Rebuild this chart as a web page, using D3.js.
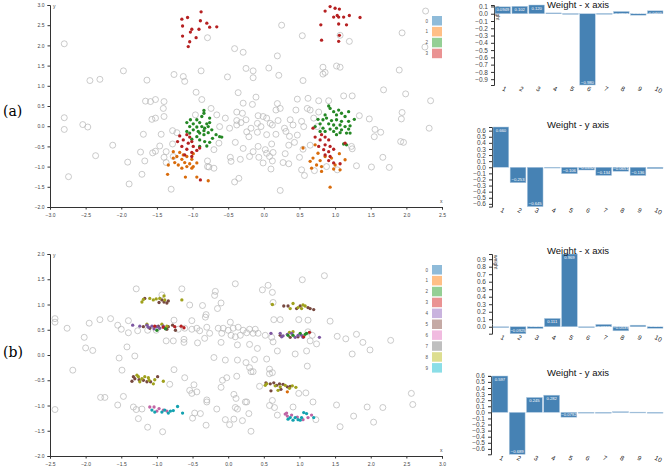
<!DOCTYPE html>
<html>
<head>
<meta charset="utf-8">
<title>Weights and clusters</title>
<style>
    body { margin: 0; padding: 0; background: #fff; }
    svg { display: block; font-family: "Liberation Sans", Arial, sans-serif; }
    .axis path, .axis line { stroke: #333; }
    .axis text { fill: #444; }
</style>
</head>
<body>
<svg id="chart" width="666" height="476"></svg>
<script src="https://d3js.org/d3.v7.min.js"></script>
<script>
// ---- data ----
const weightLabels = ["1", "2", "3", "4", "5", "6", "7", "8", "9", "10"];
const aWeightX = [0.0949, 0.102, 0.120, 0.0112, 0.0021, -0.980, 0.0034, 0.0307, -0.0198, 0.0402];
const aWeightY = [0.660, -0.253, -0.645, -0.0085, -0.106, -0.0452, -0.134, -0.0651, -0.136, -0.0230];
const bWeightX = [-0.0052, -0.0925, -0.0230, 0.111, 0.969, -0.0110, 0.0312, -0.0539, 0.0210, -0.0205];
const bWeightY = [0.597, -0.689, 0.245, 0.282, -0.0792, 0.0004, -0.0036, 0.0104, 0.0035, -0.0062];

const legendA = ["0", "1", "2", "3"];
const legendB = ["0", "1", "2", "3", "4", "5", "6", "7", "8", "9"];

// panel (a): unlabelled points
const aBackground = [
    [2.27,2.85],[0.25,2.50],[-2.80,2.04],[1.94,2.31],[0.54,2.24],[-0.79,2.19],[1.07,2.25],[2.26,1.96],
    [1.20,2.10],[1.90,1.39],[-0.41,1.92],[-0.29,1.83],[0.19,1.74],[-1.97,1.37],[-1.26,1.28],[-0.88,1.37],
    [-0.25,1.43],[-0.15,1.37],[0.07,1.44],[0.83,1.46],[1.02,1.49],[1.07,1.46],[0.86,1.33],[0.83,1.29],
    [-1.13,1.23],[-1.11,1.11],[-2.44,1.13],[-2.30,1.16],[-1.64,1.14],[-0.51,1.22],[-0.15,1.20],[0.21,1.26],
    [0.55,1.13],[1.68,0.90],[-0.95,0.84],[-0.36,0.83],[-0.11,0.72],[1.99,0.80],[2.34,0.63],[-1.66,0.62],
    [-1.59,0.61],[-1.52,0.66],[-1.40,0.61],[-0.87,0.66],[-0.29,0.57],[-0.16,0.54],[0.19,0.56],[0.47,0.67],
    [0.62,0.69],[0.77,0.63],[0.91,0.63],[1.12,0.75],[1.24,0.75],[-1.41,0.44],[-0.74,0.44],[-0.38,0.35],
    [-0.30,0.32],[0.17,0.40],[0.23,0.44],[0.45,0.40],[0.61,0.44],[0.65,0.40],[0.77,0.35],[1.94,0.34],
    [-2.80,0.21],[-1.40,0.24],[-1.52,0.20],[-1.57,0.17],[-0.96,0.28],[-0.66,0.28],[-0.54,0.20],[-0.38,0.14],
    [-0.25,0.16],[-0.08,0.26],[-0.01,0.24],[0.04,0.20],[-0.09,0.07],[0.09,0.07],[0.20,0.14],[0.37,0.16],
    [0.53,0.12],[0.70,0.20],[1.34,0.26],[1.48,0.18],[1.93,0.18],[-2.80,-0.08],[-2.54,0.04],[-2.47,-0.02],
    [-1.28,-0.11],[-0.62,-0.01],[-0.48,-0.05],[-0.38,0.03],[-0.32,0.09],[-0.18,-0.05],[-0.04,-0.01],[0.12,0.03],
    [0.29,-0.05],[0.41,0.03],[0.56,-0.01],[0.75,-0.01],[1.56,-0.08],[1.64,-0.15],[2.32,-0.05],[-1.69,-0.20],
    [-1.44,-0.20],[-1.22,-0.16],[-0.24,-0.14],[-0.21,-0.26],[-0.09,-0.15],[0.04,-0.21],[0.17,-0.20],[0.31,-0.13],
    [0.36,-0.25],[0.47,-0.22],[1.55,-0.26],[-2.12,-0.47],[-1.46,-0.49],[-1.28,-0.44],[-0.63,-0.42],[-0.40,-0.40],
    [-0.29,-0.55],[-0.08,-0.50],[0.11,-0.44],[0.35,-0.47],[0.43,-0.40],[1.23,-0.50],[1.24,-0.56],[1.92,-0.38],
    [1.96,-0.40],[-1.73,-0.64],[-1.56,-0.66],[-1.52,-0.62],[-1.37,-0.63],[-0.70,-0.58],[-0.15,-0.63],[0.02,-0.58],
    [0.04,-0.67],[0.13,-0.65],[0.30,-0.68],[0.55,-0.57],[0.65,-0.47],[-2.36,-0.73],[-1.40,-0.77],[-1.27,-0.75],
    [-0.47,-0.77],[-0.20,-0.75],[-0.07,-0.77],[0.08,-0.75],[1.67,-0.77],[-1.91,-0.89],[-1.67,-0.86],[-1.37,-0.90],
    [-0.79,-0.86],[-0.46,-0.87],[-0.33,-0.82],[-0.01,-0.91],[0.12,-0.86],[0.27,-0.90],[0.35,-0.93],[0.50,-0.77],
    [0.88,-1.00],[1.30,-0.98],[1.51,-1.01],[1.76,-1.02],[-1.71,-1.19],[-2.74,-1.25],[-0.79,-1.00],[-0.77,-1.01],
    [-0.70,-1.04],[0.10,-1.06],[0.53,-1.08],[0.57,-1.22],[0.71,-1.10],[1.03,-1.08],[-1.89,-1.43],[-1.30,-1.56],
    [-0.41,-1.38],[-0.35,-1.29],[0.23,-1.59]
];
// panel (a): class 1 (orange)
const aClass1 = [
    [-1.18,-0.65],[-1.13,-0.71],[-1.22,-0.75],[-1.08,-0.75],[-1.15,-0.82],[-1.01,-0.82],[-1.25,-0.90],[-1.11,-0.90],
    [-1.04,-0.93],[-0.94,-0.91],[-1.20,-0.96],[-1.08,-1.00],[-0.99,-1.00],[-1.34,-0.96],[-1.27,-0.79],[-1.15,-1.04],
    [-1.01,-1.04],[-1.35,-1.19],[-1.10,-1.26],[-0.94,-1.26],[-0.78,-1.35],[-0.99,-0.68],[-1.27,-0.63],
    [0.55,-0.54],[0.72,-0.46],[0.76,-0.67],[0.86,-0.75],[0.69,-0.79],[0.79,-0.85],[0.65,-0.87],[0.95,-0.79],
    [1.06,-0.68],[0.74,-0.96],[0.81,-1.00],[0.98,-1.06],[0.67,-1.04],[0.81,-1.12],[1.07,-1.08],[1.14,-0.83],
    [0.93,-1.51],[1.00,-0.96]
];
// panel (a): class 2 (green)
const aClass2 = [
    [-0.84,0.39],[-0.84,0.32],[-0.87,0.24],[-0.76,0.20],[-0.94,0.16],[-1.03,0.16],[-1.08,0.09],[-0.99,0.06],
    [-0.90,0.09],[-0.80,0.06],[-0.76,0.09],[-1.04,-0.01],[-0.94,-0.02],[-0.87,-0.01],[-0.83,-0.05],[-0.78,-0.01],
    [-0.99,-0.09],[-0.92,-0.13],[-0.84,-0.11],[-0.78,-0.16],[-0.73,-0.09],[-1.08,-0.13],[-1.04,-0.17],[-0.90,-0.17],
    [-0.84,-0.21],[-0.67,-0.21],[-0.62,-0.26],[-0.59,-0.27],[-0.72,-0.30],[-0.90,-0.34],[-0.83,-0.38],[-0.76,-0.40],
    [-0.80,-0.49],[-0.90,-0.50],[-1.01,-0.32],[-0.94,-0.26],
    [0.91,0.50],[1.05,0.40],[1.19,0.36],[1.27,0.17],[0.93,0.44],[0.98,0.36],[1.09,0.32],[0.86,0.28],
    [1.02,0.28],[1.14,0.24],[0.76,0.17],[0.83,0.16],[0.88,0.20],[0.95,0.14],[1.02,0.16],[1.09,0.12],
    [1.19,0.12],[0.79,0.06],[0.91,0.06],[0.98,0.03],[1.07,0.03],[1.14,-0.01],[1.21,0.01],[0.72,-0.01],
    [0.83,-0.05],[0.93,-0.07],[1.02,-0.05],[1.09,-0.09],[1.19,-0.07],[0.86,-0.13],[0.98,-0.13],[1.07,-0.16],
    [1.16,-0.17],[1.02,-0.21],[0.79,-0.13],[1.21,-0.17],[1.12,-0.44],[1.16,-0.46]
];
// panel (a): class 3 (red)
const aClass3 = [
    [-0.88,2.83],[-1.15,2.65],[-1.07,2.69],[-1.14,2.48],[-0.89,2.61],[-0.80,2.55],[-0.76,2.45],[-0.66,2.46],
    [-1.01,2.40],[-1.03,2.33],[-0.91,2.40],[-1.14,2.23],[-0.95,2.19],[-1.04,2.09],[-1.06,1.97],
    [0.93,2.96],[1.00,2.92],[1.06,2.90],[0.86,2.85],[1.20,2.74],[1.35,2.69],[1.03,2.74],[0.98,2.70],
    [1.05,2.70],[1.12,2.70],[0.80,2.51],[1.05,2.53],[1.16,2.51],[0.81,2.13],[1.06,2.25],[1.05,2.10],
    [-1.18,-0.24],[-1.08,-0.21],[-1.13,-0.34],[-1.01,-0.38],[-1.06,-0.42],[-0.99,-0.50],[-1.15,-0.50],[-1.08,-0.57],
    [-0.94,-0.60],[-1.01,-0.65],[-1.21,-0.38],[-1.04,-0.27],[-0.90,-0.54],[-1.11,-0.71],[-1.01,-0.75],[-0.89,-1.33],
    [0.69,-0.05],[0.81,-0.21],[0.86,-0.27],[0.79,-0.34],[0.91,-0.34],[0.86,-0.46],[0.93,-0.50],[0.84,-0.58],
    [0.91,-0.63],[0.98,-0.57],[0.77,-0.50],[0.72,-0.27],[1.14,-0.42],[0.86,-0.71],[0.93,-0.75],[0.98,-0.91],
    [1.07,-0.93],[0.91,-0.85]
];

// panel (b): unlabelled points
const bBackground = [
    [1.35,1.57],[1.04,1.49],[0.10,1.41],[0.56,1.38],[-1.29,1.31],[-0.65,1.31],[0.48,1.29],[0.62,1.24],
    [-0.18,1.26],[-0.19,1.18],[-0.93,1.19],[0.63,1.04],[-0.54,0.99],[-0.36,0.98],[-0.10,1.03],[-0.15,0.92],
    [-0.31,0.80],[-0.32,0.75],[-2.43,0.72],[-2.43,0.65],[-1.80,0.70],[-1.65,0.72],[-1.95,0.63],[-2.26,0.53],
    [-1.40,0.68],[-0.76,0.69],[-0.51,0.68],[0.03,0.65],[0.64,0.70],[0.73,0.70],[0.99,0.70],[1.12,0.69],
    [1.43,0.67],[-1.50,0.51],[-1.55,0.59],[-1.40,0.44],[-1.27,0.48],[-1.13,0.49],[-1.01,0.49],[-0.70,0.51],
    [-0.61,0.53],[-0.51,0.51],[-0.44,0.53],[-0.30,0.55],[-0.40,0.48],[-0.26,0.43],[-0.14,0.53],[-0.07,0.53],
    [0.00,0.49],[0.07,0.53],[0.14,0.55],[0.21,0.49],[0.30,0.51],[0.38,0.51],[0.42,0.43],[-0.09,0.43],
    [0.04,0.39],[0.10,0.36],[0.17,0.39],[0.26,0.44],[0.35,0.43],[0.52,0.39],[0.61,0.35],[0.63,0.26],
    [1.12,0.46],[1.18,0.39],[1.15,0.28],[1.24,0.22],[1.53,0.37],[1.65,0.32],[1.80,0.41],[1.89,0.25],
    [1.99,0.10],[2.28,0.29],[-2.02,0.35],[-2.00,0.14],[-1.90,0.09],[-1.42,0.16],[-0.87,0.28],[-0.77,0.28],
    [-0.62,0.31],[-0.62,0.25],[-0.43,0.24],[-0.33,0.33],[-0.10,0.25],[0.13,0.20],[0.30,0.21],[0.41,0.13],
    [0.69,0.08],[0.94,0.02],[1.10,0.08],[1.74,0.02],[-1.53,-0.06],[-1.31,-0.02],[-0.20,-0.05],[-0.04,-0.10],
    [0.13,-0.10],[0.37,-0.09],[0.54,-0.08],[0.25,-0.15],[0.30,-0.25],[0.32,-0.33],[0.35,-0.33],[1.11,-0.22],
    [-2.18,-0.30],[-1.49,-0.30],[-0.76,-0.29],[0.58,-0.28],[0.58,-0.37],[0.62,-0.35],[-0.02,-0.45],[-0.08,-0.50],
    [0.12,-0.42],[-0.61,-0.45],[-0.48,-0.59],[-0.82,-0.58],[-0.10,-0.64],[0.44,-0.62],[-0.54,-0.70],[-0.51,-0.76],
    [-0.44,-0.73],[0.99,-0.76],[1.09,-0.75],[-1.79,-0.84],[-1.73,-0.84],[-1.47,-0.82],[0.08,-0.78],[0.11,-0.86],
    [2.57,-0.76],[-1.55,-0.99],[-1.33,-1.03],[-1.29,-1.08],[-0.30,-0.89],[-0.30,-0.93],[-0.16,-1.07],[0.10,-1.04],
    [0.13,-1.07],[0.24,-0.93],[0.26,-0.93],[0.58,-1.00],[0.62,-0.90],[0.65,-1.04],[0.91,-1.03],[1.19,-0.93],
    [1.52,-0.99],[1.95,-1.03],[2.17,-1.04],[2.59,-0.98],[-2.43,-1.08],[-1.21,-1.07],[-0.47,-1.15],[-0.39,-1.16],
    [0.29,-1.16],[0.69,-1.19],[1.76,-1.21],[-1.26,-1.26],[-0.50,-1.25],[-0.04,-1.28],[0.08,-1.27],[0.20,-1.30],
    [1.23,-1.28],[2.04,-1.33],[-1.13,-1.43],[-0.31,-1.39],[0.02,-1.38],[1.57,-1.42],[-0.92,-1.52],[0.32,-1.51]
];
const bClass1 = [[0.83,-0.73]];
const bClass2 = [[-1.00,0.49],[-0.88,0.52],[0.84,0.39],[0.91,0.39],[1.01,0.43],[1.08,0.41],[1.10,0.43]];
const bClass3 = [[-1.03,0.57],[-0.91,0.55],[-0.75,0.56],[-0.66,0.57],[-0.62,0.54],[1.06,0.36],[1.14,0.45]];
const bClass4 = [
    [-1.34,0.59],[-1.24,0.57],[-1.14,0.59],[-1.07,0.57],[-1.00,0.56],[-0.96,0.53],[-0.91,0.57],[-1.12,0.55],
    [-1.04,0.52],[0.60,0.43],[0.73,0.43],[0.77,0.38],[0.83,0.41],[0.89,0.43],[0.94,0.35],[0.98,0.39],
    [1.03,0.39],[1.05,0.35],[1.28,0.35],[0.75,0.36]
];
const bClass5 = [
    [-1.17,1.12],[-0.93,1.09],[-0.90,1.05],[-0.84,1.07],[-0.86,1.03],[-0.97,1.04],
    [-1.19,0.56],[-1.10,0.53],[-0.98,0.57],[-0.84,0.56],[-0.78,0.59],[-0.86,0.51],[-0.74,0.49],
    [0.78,0.97],[0.84,0.97],[0.96,0.92],[1.15,0.92],[1.20,0.90],[1.12,0.94],[1.01,0.97],
    [0.73,0.39],[0.87,0.35],[0.98,0.36],
    [-1.35,-0.52],[-1.31,-0.47],[-1.25,-0.49],[-1.19,-0.50],[-1.14,-0.53],[-1.09,-0.53],[-0.99,-0.43],[-1.33,-0.43],
    [0.53,-0.55],[0.59,-0.57],[0.64,-0.55],[0.72,-0.57],[0.77,-0.58],[0.83,-0.63],[0.60,-0.71],[0.74,-0.68],
    [0.87,-0.62],[0.68,-0.60]
];
const bClass6 = [
    [-1.10,-1.03],[-1.04,-1.03],[-0.97,-1.06],[-0.91,-1.09],[-0.86,-1.11],[-1.00,-1.11],
    [0.80,-1.17],[0.83,-1.21],[0.89,-1.19],[0.97,-1.23],[1.05,-1.28],[1.12,-1.24],[1.17,-1.19],[0.82,-1.15]
];
const bClass8 = [
    [-1.21,1.05],[-1.19,1.10],[-1.10,1.12],[-1.01,1.11],[-0.96,1.12],[-0.90,1.17],[-0.89,1.09],[-0.65,1.09],[-1.05,1.09],
    [-1.14,0.61],[-0.93,0.61],[-0.86,0.57],
    [0.62,1.00],[0.91,1.02],[0.98,0.94],[1.03,0.92],[1.08,0.97],[1.05,0.99],[0.87,0.92],
    [0.86,0.45],[0.91,0.46],
    [-1.28,-0.40],[-1.26,-0.43],[-1.21,-0.47],[-1.17,-0.43],[-1.11,-0.50],[-1.05,-0.57],[-0.91,-0.52],[-1.24,-0.53],
    [-1.12,-0.45],[-1.03,-0.49],
    [0.52,-0.60],[0.54,-0.57],[0.66,-0.61],[0.73,-0.63],[0.80,-0.60],[0.86,-0.66],[0.90,-0.61],[0.95,-0.64],[0.70,-0.70]
];
const bClass9 = [
    [-1.07,-1.09],[-1.03,-1.13],[-0.93,-1.13],[-0.84,-1.15],[-0.81,-1.11],[-0.71,-1.02],[-0.64,-1.15],[-0.89,-1.09],
    [-0.77,-1.10],
    [0.84,-1.27],[0.91,-1.29],[0.98,-1.28],[1.03,-1.24],[1.06,-1.14],[1.10,-1.16],[1.20,-1.24],[0.87,-1.24],
    [1.01,-1.29],[0.94,-1.24]
];

// ---- drawing ----
const svg = d3.select('#chart');
const color = d3.scaleOrdinal(d3.schemeCategory10).domain(legendB);

// panel letters
svg.append('text').attr('x', 3).attr('y', 116)
    .style('font-family', '"DejaVu Serif", "Liberation Serif", serif').style('font-size', '14px')
    .text('(a)');
svg.append('text').attr('x', 3).attr('y', 357)
    .style('font-family', '"DejaVu Serif", "Liberation Serif", serif').style('font-size', '14px')
    .text('(b)');

function scatter(opts) {
    const x = d3.scaleLinear().domain(opts.xDomain).range([50, 442]);
    const y = d3.scaleLinear().domain(opts.yDomain).range(opts.yRange);
    const g = svg.append('g');

    const xTicks = d3.range(opts.xDomain[0], opts.xDomain[1] + 0.01, 0.5);
    const yTicks = d3.range(opts.yDomain[0], opts.yDomain[1] + 0.01, 0.5);

    g.append('g').attr('class', 'axis')
        .attr('transform', `translate(0,${opts.yRange[0]})`)
        .call(d3.axisBottom(x).tickValues(xTicks).tickFormat(d3.format('.1f')).tickSize(2.5))
        .call(a => a.selectAll('text').style('font-size', '5px').attr('dy', '0.9em'));
    g.append('g').attr('class', 'axis')
        .attr('transform', 'translate(50,0)')
        .call(d3.axisLeft(y).tickValues(yTicks).tickFormat(d3.format('.1f')).tickSize(2.5))
        .call(a => a.selectAll('text').style('font-size', '5px'));

    g.append('text').attr('x', 53).attr('y', opts.yRange[1] + 3)
        .style('font-size', '5px').attr('fill', '#444').text('y');
    g.append('text').attr('x', 440).attr('y', opts.yRange[0] - 4)
        .style('font-size', '5px').attr('fill', '#444').text('x');

    g.append('g').selectAll('circle')
        .data(opts.background)
        .enter().append('circle')
        .attr('cx', d => x(d[0]))
        .attr('cy', d => y(d[1]))
        .attr('r', 3)
        .attr('fill', 'none')
        .attr('stroke', '#b4b4b4')
        .attr('stroke-width', 0.7);

    opts.classes.forEach(c => {
        const fill = d3.rgb(color(c.key)).darker(0.45);
        g.append('g').selectAll('circle')
            .data(c.points)
            .enter().append('circle')
            .attr('cx', d => x(d[0]))
            .attr('cy', d => y(d[1]))
            .attr('r', 1.65)
            .attr('fill', fill)
            .attr('stroke', 'none');
    });

    const leg = g.append('g').selectAll('g')
        .data(opts.legend)
        .enter().append('g')
        .attr('transform', (d, i) => `translate(432,${opts.legendTop + i * 10.9})`);
    leg.append('rect')
        .attr('width', 10).attr('height', 9.5)
        .attr('fill', d => color(d)).attr('fill-opacity', 0.5);
    leg.append('text')
        .attr('x', -4).attr('y', 6.5)
        .attr('text-anchor', 'end')
        .style('font-size', '4.5px').attr('fill', '#555')
        .text(d => d);
}

scatter({
    xDomain: [-3, 2.5], yDomain: [-2, 3], yRange: [207, 5],
    background: aBackground,
    classes: [{ key: '1', points: aClass1 }, { key: '2', points: aClass2 }, { key: '3', points: aClass3 }],
    legend: legendA, legendTop: 16
});

scatter({
    xDomain: [-2.5, 3], yDomain: [-2, 2], yRange: [456, 254],
    background: bBackground,
    classes: [
        { key: '5', points: bClass5 }, { key: '8', points: bClass8 }, { key: '4', points: bClass4 },
        { key: '3', points: bClass3 }, { key: '2', points: bClass2 }, { key: '1', points: bClass1 },
        { key: '6', points: bClass6 }, { key: '9', points: bClass9 }
    ],
    legend: legendB, legendTop: 265
});

function weightBars(values, title, axisX, yTop, yBottom, titleY) {
    const x = d3.scaleBand().domain(weightLabels).range([axisX + 1, 663]).paddingInner(0.08);
    const y = d3.scaleLinear().domain(d3.extent(values)).range([yBottom, yTop]);
    const g = svg.append('g');
    const fmt = d3.format('.3r');

    // a tick every 0.1, allowing the end ticks to sit a hair past the data
    const lo = Math.ceil(d3.min(values) * 10 - 0.05), hi = Math.floor(d3.max(values) * 10 + 0.05);
    const ticks = d3.range(lo, hi + 1).map(v => v / 10);

    g.append('g').attr('class', 'axis')
        .attr('transform', `translate(${axisX},0)`)
        .call(d3.axisLeft(y).tickValues(ticks).tickFormat(d3.format('.1f')).tickSize(3))
        .call(a => a.selectAll('text').style('font-size', '6.5px').attr('fill', '#222'));

    g.append('text')
        .attr('transform', `translate(${axisX + 2},${yTop + 1}) rotate(90)`)
        .style('font-size', '5px').attr('fill', '#333')
        .text('weight');

    g.selectAll('rect.bar')
        .data(values)
        .enter().append('rect')
        .attr('class', 'bar')
        .attr('x', (d, i) => x(weightLabels[i]))
        .attr('width', x.bandwidth())
        .attr('y', d => y(Math.max(0, d)))
        .attr('height', d => Math.max(0.8, Math.abs(y(d) - y(0))))
        .attr('fill', '#4682b4')
        .attr('stroke', '#b5cde3')
        .attr('stroke-width', 0.5);

    g.selectAll('text.val')
        .data(values)
        .enter().append('text')
        .attr('class', 'val')
        .attr('x', (d, i) => x(weightLabels[i]) + x.bandwidth() / 2)
        .attr('y', d => d >= 0 ? y(d) + 4.5 : y(d) - 1.5)
        .attr('text-anchor', 'middle')
        .style('font-size', '4.2px')
        .attr('fill', '#fff')
        .text(d => fmt(d));

    g.selectAll('text.lab')
        .data(weightLabels)
        .enter().append('text')
        .attr('class', 'lab')
        .attr('transform', d => `translate(${x(d) + x.bandwidth() / 2 - 1},${yBottom + 5}) rotate(28)`)
        .style('font-size', '6.5px')
        .attr('fill', '#222')
        .text(d => d);

    g.append('text')
        .attr('x', 578).attr('y', titleY)
        .attr('text-anchor', 'middle')
        .style('font-size', '9.5px')
        .attr('fill', '#111')
        .text(title);
}

weightBars(aWeightX, 'Weight - x axis', 494, 5, 85, 8);
weightBars(aWeightY, 'Weight - y axis', 492, 127, 206.6, 128);
weightBars(bWeightX, 'Weight - x axis', 492, 254, 333.7, 254);
weightBars(bWeightY, 'Weight - y axis', 491, 376, 454.3, 376);
</script>
</body>
</html>
